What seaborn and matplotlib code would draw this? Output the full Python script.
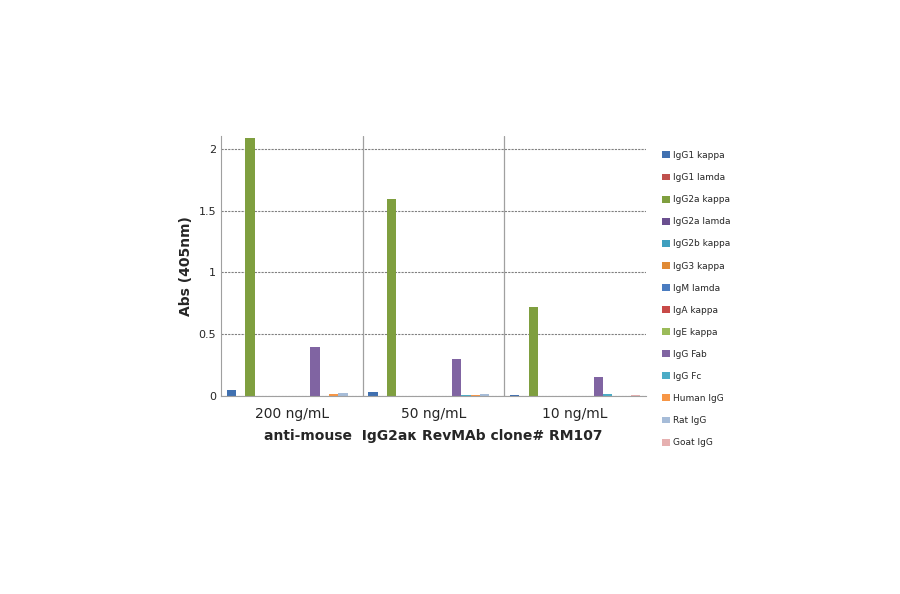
import numpy as np
import pandas as pd
import seaborn as sns
import matplotlib.pyplot as plt

groups = ['200 ng/mL', '50 ng/mL', '10 ng/mL']
series = ['IgG1 kappa', 'IgG1 lamda', 'IgG2a kappa', 'IgG2a lamda', 'IgG2b kappa',
          'IgG3 kappa', 'IgM lamda', 'IgA kappa', 'IgE kappa', 'IgG Fab', 'IgG Fc',
          'Human IgG', 'Rat IgG', 'Goat IgG']
colors = ['#4070b0', '#c0504d', '#7f9f3f', '#6a4f8f', '#3f9fbf', '#e08a35', '#4a7cc0',
          '#c84a48', '#9bbb59', '#8064a2', '#4bacc6', '#f79646', '#a6bcd8', '#e6b0b0']

vals_200 = [0.05, 0, 2.09, 0, 0, 0, 0, 0, 0, 0.40, 0, 0.02, 0.025, 0]
vals_50 = [0.035, 0, 1.59, 0, 0, 0, 0, 0, 0, 0.30, 0.005, 0.01, 0.015, 0]
vals_10 = [0.005, 0, 0.72, 0, 0, 0, 0, 0, 0, 0.15, 0.02, 0, 0, 0.005]

rows = []
for g, vals in zip(groups, [vals_200, vals_50, vals_10]):
    for s, v in zip(series, vals):
        rows.append({'conc': g, 'series': s, 'abs': v})
df = pd.DataFrame(rows)

sns.set_style('white')
fig = plt.figure(figsize=(9, 5.94), dpi=100)
ax = fig.add_axes([0.2456, 0.3333, 0.472, 0.437])
sns.barplot(data=df, x='conc', y='abs', hue='series', hue_order=series,
            palette=colors, ax=ax, width=0.92, saturation=1, linewidth=0,
            legend=True)

ax.set_ylim(0, 2.1)
ax.set_yticks([0, 0.5, 1, 1.5, 2])
ax.set_yticklabels(['0', '0.5', '1', '1.5', '2'], fontsize=8)
ax.yaxis.grid(True, linestyle=(0, (2, 1)), color='#808080', linewidth=0.8)
ax.set_axisbelow(True)
ax.set_xlim(-0.5, 2.5)
for xv in [0.5, 1.5]:
    ax.axvline(xv, color='#a0a0a0', linewidth=0.9)
for sp in ['top', 'right']:
    ax.spines[sp].set_visible(False)
for sp in ['left', 'bottom']:
    ax.spines[sp].set_color('#a0a0a0')
ax.tick_params(axis='x', labelsize=10, length=0, pad=8)
ax.tick_params(axis='y', length=0)
ax.set_xlabel('anti-mouse  IgG2aκ RevMAb clone# RM107', fontsize=10, fontweight='bold', labelpad=6)
ax.set_ylabel('Abs (405nm)', fontsize=10, fontweight='bold')

ax.legend(loc='upper left', bbox_to_anchor=(1.02, 0.975), frameon=False, fontsize=6.5,
          handlelength=0.8, handleheight=0.8, labelspacing=1.45, handletextpad=0.4)

fig.savefig('out.png', dpi=100)
